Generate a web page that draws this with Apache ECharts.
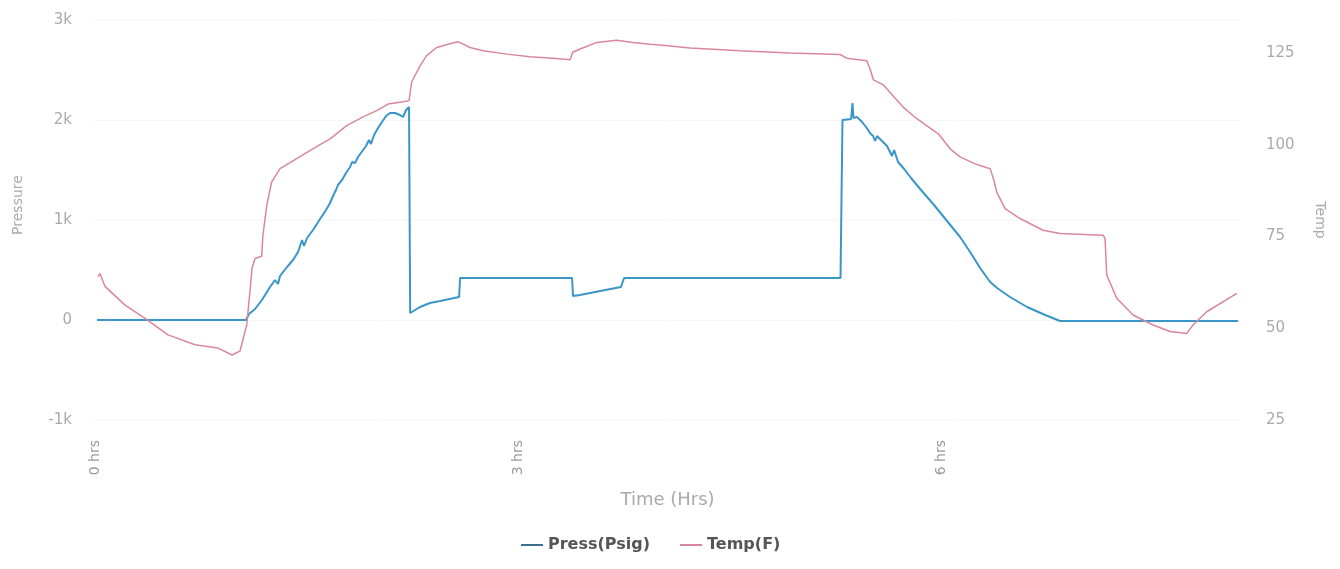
<!DOCTYPE html>
<html>
<head>
<meta charset="utf-8">
<script src="https://cdn.jsdelivr.net/npm/echarts@6/dist/echarts.min.js"></script>
<style>html,body{margin:0;padding:0;background:#fff;}#c{width:1340px;height:569px;}</style>
</head>
<body>
<div id="c"></div>
<script>
// Time in hours and values
const pressHours = [0.014,1.071,1.092,1.135,1.184,1.241,1.277,1.298,1.312,1.362,1.404,1.440,1.454,1.468,1.482,1.504,1.546,1.596,1.638,1.667,1.688,1.709,1.723,1.752,1.780,1.809,1.823,1.844,1.865,1.901,1.922,1.943,1.957,1.979,2.007,2.035,2.064,2.092,2.128,2.163,2.184,2.206,2.227,2.235,2.305,2.376,2.447,2.582,2.589,3.383,3.390,3.440,3.582,3.730,3.752,5.287,5.301,5.362,5.372,5.379,5.404,5.440,5.468,5.496,5.518,5.532,5.546,5.574,5.617,5.652,5.667,5.695,5.738,5.787,5.858,5.950,6.135,6.206,6.277,6.348,6.397,6.489,6.610,6.738,6.844,8.106];
const pressPsi = [0,0,60,110,200,330,400,360,440,530,600,680,740,800,740,820,900,1010,1100,1170,1240,1300,1350,1400,1470,1530,1580,1570,1630,1700,1740,1800,1760,1850,1920,1980,2040,2070,2070,2050,2030,2100,2130,70,130,170,190,230,420,420,240,250,290,330,420,420,2000,2010,2170,2020,2030,1980,1930,1870,1840,1790,1840,1800,1740,1640,1700,1580,1510,1420,1300,1150,830,680,520,380,320,230,130,50,-10,-10];
const tempHours = [0.021,0.035,0.071,0.213,0.355,0.518,0.709,0.872,0.972,1.028,1.076,1.099,1.113,1.135,1.182,1.191,1.218,1.253,1.312,1.430,1.572,1.667,1.785,1.901,1.998,2.078,2.184,2.227,2.246,2.305,2.352,2.423,2.504,2.574,2.660,2.752,2.920,3.085,3.248,3.369,3.388,3.440,3.558,3.700,3.816,3.936,4.007,4.220,4.574,4.929,5.284,5.331,5.473,5.496,5.520,5.591,5.662,5.733,5.828,5.945,5.981,6.064,6.135,6.241,6.326,6.348,6.371,6.395,6.454,6.560,6.723,6.844,7.149,7.163,7.175,7.246,7.362,7.504,7.624,7.742,7.787,7.884,8.097];
const tempF = [64.1,64.9,61.4,56.3,52.7,48.2,45.5,44.6,42.7,43.75,50.9,60.05,66.3,69.0,69.6,75.35,83.5,89.9,93.5,96.2,99.5,101.6,105.2,107.6,109.3,111.1,111.7,112.0,117.1,121.5,124.3,126.5,127.4,128.1,126.5,125.6,124.7,124.0,123.6,123.2,125.2,126.1,127.9,128.5,127.9,127.4,127.2,126.4,125.6,125.0,124.6,123.6,122.9,120.7,117.7,116.3,113.2,110.2,107.1,103.9,103.0,98.9,96.7,94.8,93.75,93.5,90.8,87.1,82.6,79.9,76.7,75.8,75.35,74.5,64.5,58.15,53.6,50.9,49.1,48.6,50.9,54.5,59.5];
const seriesNames = ['Press(Psig)', 'Temp(F)'];

const pressData = pressHours.map((h, i) => [h, pressPsi[i]]);
const tempData = tempHours.map((h, i) => [h, tempF[i]]);

const chart = echarts.init(document.getElementById('c'), null, {renderer: 'canvas'});
const font = 'DejaVu Sans, Liberation Sans, sans-serif';
chart.setOption({
  animation: false,
  textStyle: {fontFamily: font},
  grid: {left: 95, right: 100, top: 20, bottom: 149, containLabel: false},
  legend: {
    bottom: 11, left: 516, itemGap: 30, itemWidth: 22, itemHeight: 2,
    icon: 'rect',
    textStyle: {color: '#555', fontSize: 16, fontWeight: 'bold', fontFamily: font},
    data: seriesNames
  },
  xAxis: {
    type: 'value', min: 0, max: 8.12, interval: 3,
    name: 'Time (Hrs)', nameLocation: 'middle', nameGap: 71,
    nameTextStyle: {color: '#aaa', fontSize: 18},
    axisLine: {show: false}, axisTick: {show: false},
    splitLine: {show: false},
    axisLabel: {rotate: 90, color: '#999', fontSize: 14, margin: 20, showMaxLabel: false,
      formatter: v => v + ' hrs'}
  },
  yAxis: [{
    type: 'value', min: -1000, max: 3000, interval: 1000,
    name: 'Pressure', nameLocation: 'middle', nameGap: 70,
    nameTextStyle: {color: '#aaa', fontSize: 14, padding: [0, 0, 0, 30]},
    axisLine: {show: false}, axisTick: {show: false},
    splitLine: {lineStyle: {color: '#f6f6f6'}},
    axisLabel: {color: '#aaa', fontSize: 15, margin: 23,
      formatter: v => v === 0 ? '0' : (v / 1000) + 'k'}
  }, {
    type: 'value', min: 25, max: 134, interval: 25, position: 'right',
    name: 'Temp', nameLocation: 'middle', nameGap: 73, nameRotate: -90,
    nameTextStyle: {color: '#aaa', fontSize: 14},
    axisLine: {show: false}, axisTick: {show: false},
    splitLine: {show: false},
    axisLabel: {color: '#aaa', fontSize: 15, margin: 26, showMaxLabel: false}
  }],
  series: [{
    name: seriesNames[0], type: 'line', yAxisIndex: 0, data: pressData,
    showSymbol: false, symbol: 'none',
    lineStyle: {color: '#3a96c8', width: 2}, itemStyle: {color: '#3a6f8f'}
  }, {
    name: seriesNames[1], type: 'line', yAxisIndex: 1, data: tempData,
    showSymbol: false, symbol: 'none',
    lineStyle: {color: '#d9879c', width: 1.5}, itemStyle: {color: '#d9879c'}
  }]
});
</script>
</body>
</html>
